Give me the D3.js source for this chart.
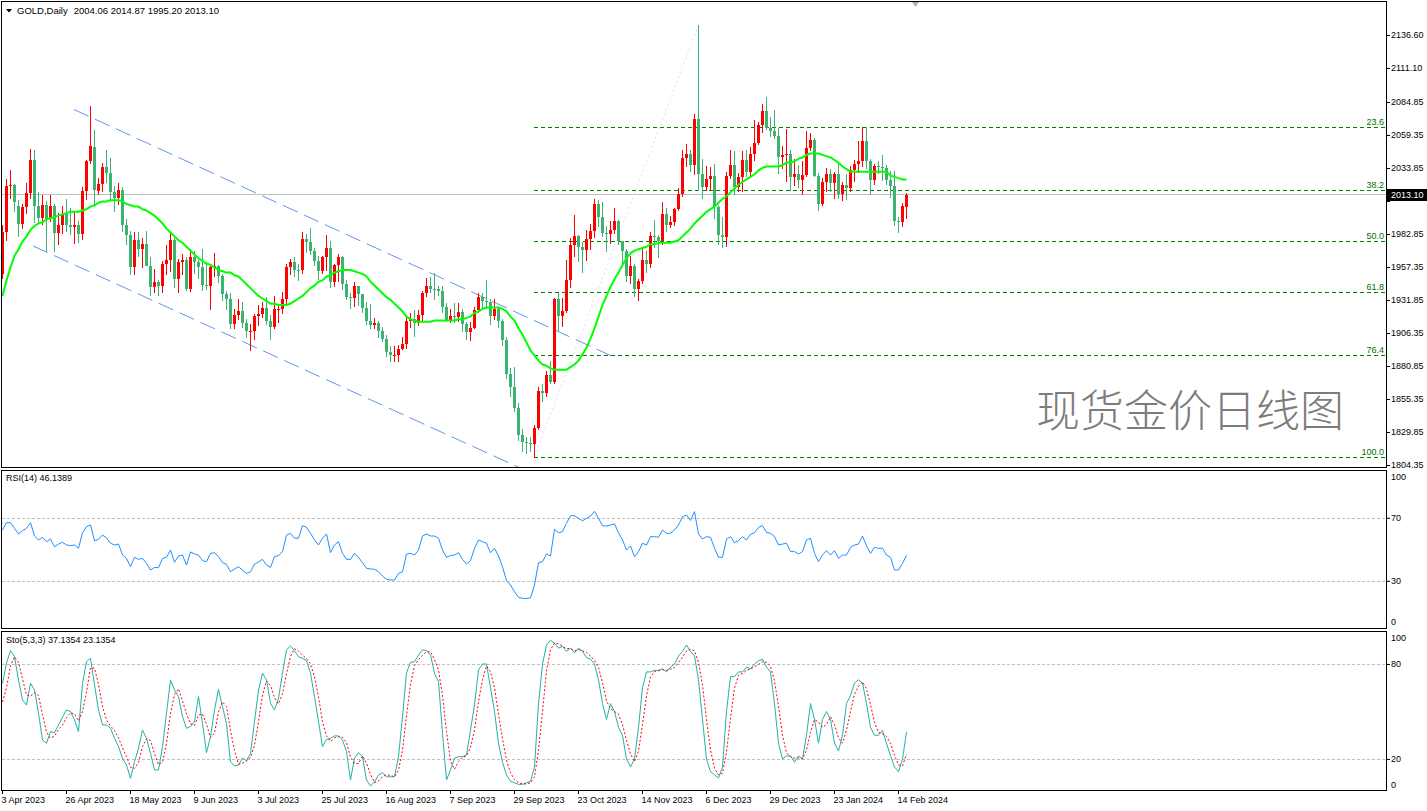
<!DOCTYPE html>
<html><head><meta charset="utf-8">
<script src="https://cdn.jsdelivr.net/npm/d3@7/dist/d3.min.js"></script>
<style>
html,body{margin:0;padding:0;background:#fff;overflow:hidden;}
svg{display:block;}
</style></head><body>
<svg id="c" width="1427" height="811"></svg>
<script>
const symbol = "GOLD", timeframe = "Daily";
const watermark = "现货金价日线图";
const dateTickIdx = [0,16,32,48,64,80,96,112,128,144,160,176,192,208,224];
const dateLabels = ["3 Apr 2023","26 Apr 2023","18 May 2023","9 Jun 2023","3 Jul 2023","25 Jul 2023","16 Aug 2023","7 Sep 2023","29 Sep 2023","23 Oct 2023","14 Nov 2023","6 Dec 2023","29 Dec 2023","23 Jan 2024","14 Feb 2024"];
const priceTicks = [2136.60,2111.10,2084.85,2059.35,2033.85,2008.35,1982.85,1957.35,1931.85,1906.35,1880.85,1855.35,1829.85,1804.35];

const opens = [1952,1984.3,2019.8,2020.9,2004.5,1990.4,2003.5,2014.8,2040.3,2004.3,
1995.2,2005.3,1994.1,2004.2,1983.3,1989.7,1998,1989.6,1988.6,1989.7,
1983,2016,2039,2050,2016,2021.7,2034.6,2030.3,2015.6,2010.9,
2017,1989.5,1982.2,1957.5,1977.9,1971.6,1975,1957.9,1941.5,1946,
1942.6,1959.6,1962.7,1977.9,1947.8,1961.4,1962.7,1940.2,1965,1961.4,
1957.5,1943.5,1942.3,1957.5,1958,1950.3,1936.3,1932.3,1913.5,1920.6,
1923.3,1913.8,1907.6,1908.2,1919.4,1921.3,1925.5,1915.5,1911,1925,
1925,1932.5,1957.3,1961.3,1955.3,1955,1979.3,1977,1969.5,1962,
1954.5,1965,1972,1945.6,1959,1965,1944.3,1934,1933.5,1942.7,
1936.5,1925.4,1915.7,1912.7,1913.7,1907.7,1902,1891.5,1889.2,1889.5,
1894.3,1898.2,1915.7,1917,1914.4,1920.4,1937.2,1942.4,1940.2,1940.1,
1938.8,1926.3,1916.4,1919.5,1919,1922.2,1913.4,1907.5,1910.2,1924.2,
1934,1931,1930,1919.8,1925,1915.8,1900.6,1874.4,1864.3,1848.6,
1827.9,1822.2,1821.4,1820.2,1832.7,1861.2,1860.3,1874.2,1868.4,1932.3,
1919.5,1923.4,1947.6,1974.1,1981.1,1972.9,1970.2,1979.3,1984.8,2006.3,
1996.2,1983.6,1982.5,1985.6,1992.6,1977.6,1969.7,1950,1958.4,1940,
1946.3,1963,1959.7,1981,1980.5,1977.7,1998.6,1990,1992.3,2002,
2013.9,2041.2,2044.3,2036,2072,2029.5,2019,2025,2028,2004,
1982,1980.5,2027.5,2036,2019.5,2027,2040,2031,2045,2053,
2067,2077.5,2065,2062.8,2058.5,2042,2043.5,2045,2027,2029.5,
2024.2,2028.7,2049,2055.8,2028,2006.3,2022.9,2029,2022,2029,
2014,2020.5,2018,2032.3,2037.3,2039.3,2054.6,2039.3,2024.7,2035.2,
2034.7,2034,2024.2,2019.8,1992.5,1992.1,2004.06];
const highs = [1990,2025.3,2032.1,2021.5,2009.3,2006,2022.3,2048.7,2048,2015,
2012.6,2008.4,2013,2006.3,1999,2004.5,2009.7,2003,2000,1993,
2018.8,2040,2081.8,2063,2026,2038,2048,2041.6,2020,2022,
2019.5,1994.2,1985,1984,1984,1979.6,1985,1965,1956,1947,
1962,1974,1983.4,1980,1963.6,1967,1965,1971,1970,1963,
1971.5,1959.7,1959,1968,1959,1952,1939,1937,1925,1933,
1930,1917,1913,1921,1928,1930,1934,1920,1935,1928,
1938,1960,1963.8,1965,1960,1984,1983,1987.5,1972,1966,
1966,1982,1977.5,1960,1967,1966,1947,1937,1946,1943,
1936.6,1930,1929,1918,1916,1911,1905,1896,1896,1897,
1903.5,1919,1922,1923.8,1924,1938.5,1948.8,1949.9,1953,1942.5,
1943,1929.5,1925,1929.5,1929.8,1924.8,1915,1915,1926.8,1937,
1937,1947.4,1932.9,1932.3,1926.5,1917,1903.5,1879,1879.7,1852,
1832,1826,1826,1835,1865,1867,1877.2,1884.7,1933.6,1937.4,
1933.6,1962.5,1980,1997.2,1982.2,1977,1986,1990.4,2009.5,2009.4,
2007.7,1989,1993,2003.3,1993.8,1977.8,1971.3,1965.5,1959.8,1948.2,
1971,1970,1984,1993.5,1982,2007.6,2003,1997,2003,2018,
2048,2052,2047.8,2075.3,2144.3,2041,2035,2034.9,2037,2005,
1995.6,2031,2047.7,2047,2030,2047,2047.9,2050,2070.6,2069.6,
2083,2088.5,2073,2078.6,2065,2051,2064,2048,2040.8,2036,
2039,2062.5,2060.5,2057,2030,2026,2034,2033.4,2031,2037.5,
2023,2029.5,2035,2040,2055,2065.4,2065.4,2041,2037,2039.5,
2043.5,2036.3,2031.6,2031.5,1996,2006.9,2014.87];
const lows = [1949,1978.4,2010.5,2000.5,1981.3,1987.8,1999,2011,1992.3,1991.7,
1990.8,1969.4,1993,1969.5,1975,1983.5,1985,1983.2,1976,1977,
1978.8,2010,2038,2005,2014,2016,2023,2009,2000.8,2006,
1985,1975,1951.7,1952,1966,1957.5,1962,1936,1938,1936,
1938,1951.6,1954,1942,1938,1952,1939.5,1939,1952.5,1949,
1939.2,1940,1925,1950,1946,1932,1925,1910.3,1910,1917,
1911,1903,1893,1902,1912.4,1919,1913,1902,1910,1915,
1922,1929,1952,1950.5,1947.5,1952.5,1969,1967,1959,1948,
1953,1955,1942,1943,1946.4,1940.5,1932.5,1926,1927.5,1928,
1922.5,1913,1910.5,1909.9,1903,1900,1888.7,1885,1885,1884.7,
1893.8,1895,1911,1903.8,1912.9,1916,1934.7,1938,1932.5,1935.8,
1922.4,1915.6,1915,1914.8,1915.3,1908,1901.5,1901,1910,1922.5,
1925.8,1925.5,1913,1917,1910.6,1897,1871.3,1857.6,1846,1824,
1815,1813.5,1815.5,1810.9,1832,1853.6,1857.8,1867.5,1868,1908.7,
1912,1922.6,1942,1965.5,1961.8,1953.7,1962.4,1971,1980.5,1988.9,
1981.3,1970,1976,1983.5,1975.3,1958.3,1946.7,1944.6,1935.3,1931.8,
1945,1953.6,1957,1973,1965,1975,1985,1988,1990,2001,
2012.5,2035,2031.3,2029,2017,2011,2017,2017.2,1995,1975,
1973,1973.5,2026,2014,2016,2016,2028,2028,2040,2052,
2062,2064,2058.6,2057,2030,2034,2024,2017,2021,2019,
2013.5,2027.6,2047.5,2027.5,2001.5,2005.6,2016,2015.8,2010.5,2010.8,
2009,2009.6,2016,2024,2031,2035.5,2034,2014,2021.5,2030,
2024.5,2021.4,2011.8,1990.1,1984,1988.7,1995.2];
const closes = [1984.3,2019.8,2020.9,2007.8,1990.4,2003.5,2014.8,2040.3,2004.3,1995.2,
2005.3,1994.1,2004.2,1983.3,1989.7,1998,1989.6,1988.6,1989.7,1983,
2016,2039,2050.5,2016.8,2021.7,2034.6,2030.3,2015.6,2010.9,2017,
1989.5,1982.2,1957.5,1977.9,1971.6,1975,1957.9,1941.5,1946,1942.6,
1959.6,1962.7,1977.9,1947.8,1961.4,1962.7,1940.2,1965,1961.4,1957.5,
1943.5,1942.3,1957.5,1958,1950.3,1936.3,1932.3,1913.5,1920.6,1923.3,
1913.8,1907.6,1908.2,1919.4,1921.3,1925.5,1915.5,1911,1925,1925.2,
1932.5,1957.3,1961.3,1955.3,1955,1979.3,1977,1969.5,1962,1954.5,
1965,1972,1945.6,1959,1965,1944.3,1934,1933.5,1942.7,1936.5,
1925.4,1915.7,1912.7,1913.7,1907.7,1902,1891.5,1889.2,1889.5,1894.3,
1898.2,1915.7,1917,1914.4,1920.4,1937.2,1942.4,1940.2,1940.1,1938.8,
1926.3,1916.4,1919.5,1919,1922.2,1913.4,1907.5,1910.2,1924.2,1934,
1931,1930,1919.8,1925,1915.8,1900.6,1874.4,1864.3,1848.6,1827.9,
1822.2,1821.4,1820.2,1832.7,1861.2,1860.3,1874.2,1868.4,1932.3,1919.5,
1923.4,1947.6,1974.1,1981.1,1972.9,1970.2,1979.3,1984.8,2006.3,1996.2,
1983.6,1982.5,1985.6,1992.6,1977.6,1969.7,1950,1958.4,1940,1946.3,
1963,1959.7,1981,1980.5,1977.7,1998.6,1990,1992.3,2002,2013.9,
2041.2,2044.3,2036,2072,2029.5,2019,2025,2028,2004,1982,
1980.5,2027.5,2036,2019.5,2027,2040,2031,2045,2053,2067,
2077.5,2065,2062.8,2058.5,2042,2043.5,2045,2027,2029.5,2024.2,
2028.7,2049,2055.8,2028,2006.3,2022.9,2029,2022,2029,2014,
2020.5,2018,2032.3,2037.3,2039.3,2054.6,2039.3,2024.7,2035.2,2034.7,
2034,2024.2,2019.8,1992.5,1992.1,2004.1,2013.1];

const ma20 = [1935,1947,1957,1966,1971,1977,1981,1986,1989,1991,
1992,1994,1995,1996,1997,1998,1999,2000,2000,2000,
2001,2002,2004,2005,2007,2008,2008,2009,2009,2009,
2008,2006,2005,2004,2004,2002,2001,1999,1997,1994,
1991,1987,1984,1981,1978,1976,1973,1970,1967,1964,
1962,1960,1959,1957,1955,1954,1953,1953,1951,1950,
1947,1944,1941,1938,1935,1933,1931,1929,1929,1928,
1928,1928,1929,1931,1933,1935,1938,1941,1943,1946,
1947,1950,1951,1953,1954,1955,1955,1955,1954,1953,
1952,1950,1946,1943,1940,1937,1934,1932,1929,1926,
1923,1919,1917,1916,1915,1915,1915,1915,1916,1916,
1916,1916,1916,1916,1917,1917,1918,1919,1922,1923,
1925,1926,1926,1926,1926,1925,1923,1919,1916,1910,
1905,1899,1893,1889,1885,1882,1881,1879,1878,1878,
1878,1878,1880,1882,1885,1890,1895,1902,1910,1919,
1928,1935,1942,1948,1953,1959,1964,1968,1970,1971,
1972,1973,1975,1975,1976,1976,1976,1976,1977,1978,
1981,1984,1987,1991,1994,1997,2000,2002,2004,2007,
2010,2012,2015,2018,2021,2023,2025,2027,2029,2032,
2034,2035,2035,2035,2035,2036,2038,2038,2039,2041,
2042,2044,2045,2045,2045,2044,2043,2042,2040,2038,
2035,2033,2031,2031,2031,2031,2031,2031,2031,2031,
2031,2031,2028,2027,2026,2025,2025];

const rsi14 = [62.2,66.9,66.9,63.3,59.7,61.8,63.3,66.9,58.4,55.9,
57.6,54.8,56.5,51.6,53.3,54.4,52.7,52.3,52.7,50.6,
60.5,64.3,65.4,55.4,56.3,59,57.3,53.8,52.7,53.3,
46.3,44.2,38.9,44.9,43.6,44.2,41.1,36.8,38.5,38.3,
44.2,44.9,49.5,41.7,45.7,46.3,40,48.3,47,46.3,
42.7,42.1,47.4,47.8,45.3,41.5,40.4,35.7,37.5,38.9,
36.8,34.7,35.7,40.6,41.9,43.6,40,38.5,45.3,45.9,
48.5,59,60.1,57,57,65,63.9,60.1,55.9,52.7,
57,59.7,47.8,52.7,54.8,47.4,43.6,43.6,47.4,44.9,
41.5,37.9,37.5,37.3,35.7,33,30.9,30.5,30.5,34.7,
35.7,47,47.4,46.3,49.5,58.4,59.7,58.4,58.4,57,
49.5,44.9,46,46.3,47.8,43.6,40.6,42.7,50.6,55.9,
54.8,53.8,47.8,50.6,45.7,38.9,30,27.3,23,19.5,
18.8,18.8,19.1,27.3,41.5,42.1,47,45.7,62.7,60.5,
61.2,66.5,71.3,71.3,69.7,68,69.7,71.1,74.1,69.7,
64.8,64.8,65.4,66.1,60.5,55.9,49.5,52.1,45.3,48.5,
53.8,52.7,58,58,57.6,62.2,60.1,60.1,62.2,65.4,
70.7,71.7,68.3,73.9,59.7,56.5,58,57.6,50.6,44.9,
44.9,56.5,58,54.2,55.5,58,55.9,59.5,60.5,63.9,
65,60.7,60.1,58,52.7,53.3,53.8,48.5,48.5,47,
48.5,55.9,57,47.4,42.1,46.3,49.1,46.3,49.1,44.2,
46.3,46.3,51.2,52.7,53.3,58.4,52.1,47.4,51.2,50.6,
50.6,46.3,44.9,36.8,36.8,41.1,46.1];

const stoMain = [67.8,80.5,88.4,84.6,69.9,57.3,54.1,67.8,63.6,48.9,
32,29.9,37.3,36.6,41.5,46.4,51,49.9,44.7,37.3,
67.8,81.5,83.6,66.8,51,41.5,41.5,39.4,33.1,27.8,
20.5,16.2,7.8,18.3,26.8,38.3,33.1,23.6,13.1,13.1,
27.8,48.9,69.9,63.6,59.4,46.7,39.4,40.5,43.6,59.4,
42.5,24,34.1,51,64,53,42.5,18.3,15.6,16.2,
20.5,19,23.6,43.6,63.6,74.2,69.9,55.2,51,58.3,
74.2,88.9,91.4,88.4,84.6,83.6,82.1,74.2,59.4,43.6,
27.8,32.4,33.1,34.6,34.6,32,24.6,6.8,20.5,24,
21.5,6.8,3,5.5,9.9,11.4,8.8,8.8,8.8,21.5,
46.7,74.2,81.1,81.5,85.7,88.9,88.4,85.7,74.2,68.9,
36.2,6.8,13.1,20.5,21.5,21.5,22.6,38.3,54.1,76.2,
80,80,65,50,30,18,10,6,5,4,
4,5,6,15,55,80,92,95,93,90,
91,88,90,87,90,88,84,83,80,70,
55,45,55,50,40,35,20,15,20,40,
65,75,75,76,76,77,75,78,80,85,
88,92,88,85,70,45,20,12,10,8,
15,50,72,72,75,75,78,77,80,82,
83,78,75,55,30,20,22,22,18,22,
20,35,55,45,30,45,50,45,30,25,
35,55,60,68,70,68,55,40,35,35,
38,30,22,15,12,20,37.1];

const stoSignal = [56,65,78.9,84.5,81,70.6,60.4,59.7,61.8,60.1,
48.2,36.9,33.1,34.6,38.5,41.5,46.3,49.1,48.5,44,
49.9,62.2,77.6,77.3,67.1,53.1,44.7,40.8,38,33.4,
27.1,21.5,14.8,14.1,17.6,27.8,32.7,31.7,23.3,16.6,
18,29.9,48.9,60.8,64.3,56.6,48.5,42.2,41.2,47.8,
48.5,42,33.5,36.4,49.7,56,53.2,37.9,25.5,16.7,
17.4,18.6,21,28.7,43.6,60.5,69.2,66.4,58.7,54.8,
61.2,73.8,84.8,89.6,88.1,85.5,83.4,80,71.9,59.1,
43.6,34.6,31.1,33.4,34.1,33.7,30.4,21.1,17.3,17.1,
22,17.4,10.4,5.1,6.1,8.9,10,9.7,8.8,13,
25.7,47.5,67.3,78.9,82.8,85.4,87.7,87.7,82.8,76.3,
59.8,37.3,18.7,13.5,18.4,21.2,21.9,27.5,38.3,56.2,
70.1,78.7,75,65,48.3,32.7,19.3,11.3,7,5,
4.3,4.3,5,8.7,25.3,50,75.7,89,93.3,92.7,
91.3,89.7,89.7,88.3,89,88.3,87.3,85,82.3,77.7,
68.3,56.7,51.7,50,48.3,41.7,31.7,23.3,18.3,25,
41.7,60,71.7,75.3,75.7,76.3,76,76.7,77.7,81,
84.3,88.3,89.3,88.3,81,66.7,45,25.7,14,10,
11,24.3,45.7,64.7,73,74,76,76.7,78.3,79.7,
81.7,81,78.7,69.3,53.3,35,24,21.3,20.7,20.7,
20,25.7,36.7,45,43.3,40,41.7,46.7,41.7,33.3,
30,38.3,50,61,66,68.7,64.3,54.3,43.3,36.7,
36,34.3,30,22.3,16.3,15.7,23.1];

const rsiLabel = "RSI(14) 46.1389";
const stoLabel = "Sto(5,3,3) 37.1354 23.1354";
const rsiLevels = [70,30];
const stoLevels = [80,20];
const fibLevels = [23.6,38.2,50.0,61.8,76.4,100.0];
const fibHighIdx = 174, fibLowIdx = 133;
const channelUpper = [[18,2079],[152.8,1888]];
const channelLower = [[7.75,1973.6],[131,1800]];

// ---------- layout ----------
const FONT = "'Liberation Sans', Arial, sans-serif";
const L = 1.5, R = 1386.5;
const P = { main:{t:1.5,b:467.5}, rsi:{t:470.5,b:628.5}, sto:{t:631.5,b:790.5} };
const N = closes.length;
const svg = d3.select('#c');

const x = d3.scaleLinear().domain([0,1]).range([2,6]);
const yMain = d3.scaleLinear().domain([1804.35,2136.60]).range([465,35]);
const yRsi = d3.scaleLinear().domain([0,100]).range([628,470.5]);
const ySto = d3.scaleLinear().domain([0,100]).range([790.7,632.3]);

const defs = svg.append('defs');
Object.entries(P).forEach(([k,p])=>{
  defs.append('clipPath').attr('id','clip-'+k).append('rect')
    .attr('x',L+0.5).attr('y',p.t+0.5).attr('width',R-L-1).attr('height',p.b-p.t-1);
});
defs.append('clipPath').attr('id','clip-tick').append('rect')
  .attr('x',R).attr('y',0).attr('width',60).attr('height',811);

// ---------- main panel ----------
const gM = svg.append('g').attr('clip-path','url(#clip-main)');
const last = N-1;
const cy = Math.floor(yMain(closes[last]))+0.5;
gM.append('line').attr('x1',L).attr('x2',R).attr('y1',cy).attr('y2',cy)
  .attr('stroke','#c0c0c0').attr('stroke-width',1).attr('shape-rendering','crispEdges');

// channels
const chLine = d3.line().x(d=>x(d[0])).y(d=>yMain(d[1]));
[channelUpper, channelLower].forEach(ch=>{
  gM.append('path').attr('d',chLine(ch)).attr('fill','none')
    .attr('stroke','#6495ed').attr('stroke-width',1).attr('stroke-dasharray','16,7');
});

// fibonacci
const fibHigh = highs[fibHighIdx], fibLow = lows[fibLowIdx];
gM.append('line').attr('x1',x(fibLowIdx)+0.5).attr('y1',yMain(fibLow))
  .attr('x2',x(fibHighIdx)+0.5).attr('y2',yMain(fibHigh))
  .attr('stroke','#dcdcf6').attr('stroke-width',1).attr('stroke-dasharray','2,3');
const fibG = gM.append('g');
fibLevels.forEach(lv=>{
  const p = fibHigh - lv/100*(fibHigh-fibLow);
  const yy = Math.round(yMain(p))+0.5;
  fibG.append('line').attr('x1',x(fibLowIdx)).attr('x2',R).attr('y1',yy).attr('y2',yy)
    .attr('stroke','#008000').attr('stroke-width',1).attr('stroke-dasharray','4,3')
    .attr('shape-rendering','crispEdges');
  fibG.append('text').attr('x',R-2.5).attr('y',yy-3).attr('text-anchor','end')
    .attr('font-family',FONT).attr('font-size',9).attr('fill','#007000').text(lv.toFixed(1));
});

// candles
const bars = closes.map((c,i)=>({i,o:opens[i],h:highs[i],l:lows[i],c}));
const col = d=> d.c>=d.o ? '#ff0000' : '#3cb371';
const cg = gM.append('g').attr('shape-rendering','crispEdges');
cg.selectAll('line.w').data(bars).join('line').attr('class','w')
  .attr('x1',d=>Math.round(x(d.i))+0.5).attr('x2',d=>Math.round(x(d.i))+0.5)
  .attr('y1',d=>Math.round(yMain(d.h))).attr('y2',d=>Math.round(yMain(d.l))+1)
  .attr('stroke',col).attr('stroke-width',1);
cg.selectAll('rect.b').data(bars).join('rect').attr('class','b')
  .attr('x',d=>Math.round(x(d.i))-1).attr('width',3)
  .attr('y',d=>Math.round(yMain(Math.max(d.o,d.c))))
  .attr('height',d=>Math.max(1,Math.round(yMain(Math.min(d.o,d.c)))-Math.round(yMain(Math.max(d.o,d.c)))))
  .attr('fill',col);

// MA
gM.append('path').datum(ma20)
  .attr('d',d3.line().x((d,i)=>x(i)+0.5).y(d=>yMain(d)))
  .attr('fill','none').attr('stroke','#00ff00').attr('stroke-width',2)
  .attr('stroke-linejoin','round');

// watermark
svg.append('text').attr('x',1036).attr('y',427)
  .attr('font-family',"'Noto Sans CJK SC','Noto Sans CJK JP',sans-serif")
  .attr('font-size',44).attr('font-weight',300).attr('fill','#7c7c7c').text(watermark);

// ---------- RSI panel ----------
const gR = svg.append('g').attr('clip-path','url(#clip-rsi)');
rsiLevels.forEach(v=>{
  const yy = Math.round(yRsi(v))+0.5;
  gR.append('line').attr('x1',L).attr('x2',R).attr('y1',yy).attr('y2',yy)
    .attr('stroke','#c0c0c0').attr('stroke-dasharray','3,2').attr('shape-rendering','crispEdges');
});
gR.append('path').datum(rsi14)
  .attr('d',d3.line().x((d,i)=>x(i)+0.5).y(d=>yRsi(d)))
  .attr('fill','none').attr('stroke','#1e90ff').attr('stroke-width',1);

// ---------- Stochastic panel ----------
const gS = svg.append('g').attr('clip-path','url(#clip-sto)');
stoLevels.forEach(v=>{
  const yy = Math.round(ySto(v))+0.5;
  gS.append('line').attr('x1',L).attr('x2',R).attr('y1',yy).attr('y2',yy)
    .attr('stroke','#c0c0c0').attr('stroke-dasharray','3,2').attr('shape-rendering','crispEdges');
});
gS.append('path').datum(stoMain)
  .attr('d',d3.line().x((d,i)=>x(i)+0.5).y(d=>ySto(d)))
  .attr('fill','none').attr('stroke','#20b2aa').attr('stroke-width',1);
gS.append('path').datum(stoSignal)
  .attr('d',d3.line().x((d,i)=>x(i)+0.5).y(d=>ySto(d)))
  .attr('fill','none').attr('stroke','#ff0000').attr('stroke-width',1).attr('stroke-dasharray','2,2');

// ---------- frames ----------
const fr = svg.append('g').attr('fill','none').attr('stroke','#000').attr('stroke-width',1).attr('shape-rendering','crispEdges');
Object.values(P).forEach(p=>{
  fr.append('path').attr('d',`M${R},${p.t}H${L}V${p.b}H${R}V${p.t}`);
});

// ---------- axes ----------
function styleAxis(g){
  g.attr('font-family',FONT).attr('font-size',9);
  g.select('.domain').remove();
  g.selectAll('.tick line').attr('stroke','#000');
  g.selectAll('.tick text').attr('fill','#000');
}
const tagY = yMain(closes[last]);
// price labels hidden behind the last-price tag are skipped, as the terminal covers them
const visibleTicks = priceTicks.filter(t=>Math.abs(yMain(t)-tagY)>9);
svg.append('g').attr('transform',`translate(${R-0.5},0)`)
  .call(d3.axisRight(yMain).tickValues(priceTicks).tickSize(4).tickPadding(1)
        .tickFormat(t=>visibleTicks.includes(t)?d3.format('.2f')(t):''))
  .call(styleAxis);
svg.append('g').attr('transform',`translate(${R-0.5},0)`)
  .call(d3.axisRight(yRsi).tickValues(rsiLevels).tickSize(4).tickPadding(1).tickFormat(d3.format('d')))
  .call(styleAxis);
svg.append('g').attr('transform',`translate(${R-0.5},0)`)
  .call(d3.axisRight(ySto).tickValues(stoLevels).tickSize(4).tickPadding(1).tickFormat(d3.format('d')))
  .call(styleAxis);
[[yRsi(100)+7,'100'],[yRsi(0)-6,'0'],[ySto(100)+6,'100'],[ySto(0)-6,'0']].forEach(([yy,t])=>{
  svg.append('text').attr('x',R+4.5).attr('y',yy).attr('dy','0.32em')
    .attr('font-family',FONT).attr('font-size',9).attr('fill','#000').text(t);
});
const xa = svg.append('g').attr('transform',`translate(0,${P.sto.b-0.5})`)
  .call(d3.axisBottom(x).tickValues(dateTickIdx).tickSize(4).tickPadding(3)
        .tickFormat((d,i)=>dateLabels[i]))
  .call(styleAxis);
xa.selectAll('.tick text').attr('text-anchor','start').attr('x',-1).attr('y',7);

// current price tag
svg.append('rect').attr('x',R+0.5).attr('y',Math.round(tagY)-6).attr('width',40).attr('height',12).attr('fill','#000');
svg.append('text').attr('x',R+4.5).attr('y',tagY).attr('dy','0.35em')
  .attr('font-family',FONT).attr('font-size',9).attr('fill','#fff').text(closes[last].toFixed(2));

// ---------- header texts ----------
svg.append('path').attr('d','M6,9L12,9L9,12.5Z').attr('fill','#000');
const ht = svg.append('text').attr('x',17).attr('y',13.5).attr('font-family',FONT).attr('font-size',9.5).attr('fill','#000');
ht.append('tspan').text(`${symbol},${timeframe}`);
ht.append('tspan').attr('dx',6).text([opens[last],highs[last],lows[last],closes[last]].map(v=>v.toFixed(2)).join(' '));
svg.append('text').attr('x',6).attr('y',P.rsi.t+10.5).attr('font-family',FONT).attr('font-size',9).attr('fill','#000').text(rsiLabel);
svg.append('text').attr('x',6).attr('y',P.sto.t+11.5).attr('font-family',FONT).attr('font-size',9).attr('fill','#000').text(stoLabel);
svg.append('path').attr('d',`M${x(227.5)},2L${x(227.5)+7},2L${x(227.5)+3.5},7Z`).attr('fill','#b0b0b0');
</script>
</body></html>
